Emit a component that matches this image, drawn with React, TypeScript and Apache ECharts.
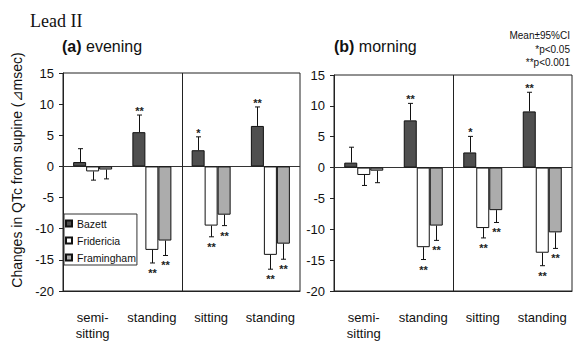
import React, { useEffect, useRef } from 'react';
import * as echarts from 'echarts';

const categories = ['semi-\nsitting', 'standing', 'sitting', 'standing'];
const methods = ['Bazett', 'Fridericia', 'Framingham'];
const yTicks = { min: -20, max: 15, interval: 5 };

// (a) evening: means, 95% CI ends, significance marks
const eveBazett = [0.7, 5.5, 2.6, 6.5];
const eveBazettCI = [2.85, 8.25, 4.75, 9.55];
const eveBazettSig = ['', '**', '*', '**'];
const eveFridericia = [-0.8, -13.4, -9.5, -14.2];
const eveFridericiaCI = [-2.2, -15.5, -11.3, -16.5];
const eveFridericiaSig = ['', '**', '**', '**'];
const eveFramingham = [-0.5, -11.9, -7.75, -12.4];
const eveFraminghamCI = [-2.0, -14.3, -9.5, -14.9];
const eveFraminghamSig = ['', '**', '**', '**'];

// (b) morning
const mornBazett = [0.8, 7.65, 2.45, 9.1];
const mornBazettCI = [3.3, 10.4, 5.05, 12.2];
const mornBazettSig = ['', '**', '*', '**'];
const mornFridericia = [-1.2, -12.9, -9.8, -13.8];
const mornFridericiaCI = [-2.9, -14.9, -11.4, -15.9];
const mornFridericiaSig = ['', '**', '**', '**'];
const mornFramingham = [-0.5, -9.4, -6.9, -10.5];
const mornFraminghamCI = [-2.45, -11.8, -8.9, -13.1];
const mornFraminghamSig = ['', '**', '**', '**'];

const FONT = 'Liberation Sans, Arial, sans-serif';
const colors = ['#4f4f4f', '#ffffff', '#acacac'];
const BAR_W = 13;

function makeRender(offset: number, sig: string[]) {
  return (params: any, api: any) => {
    const i = api.value(0);
    const v = api.value(1);
    const e = api.value(2);
    const p0 = api.coord([i, v]);
    const p1 = api.coord([i, e]);
    const x = Math.round(p0[0] + offset) + 0.5;
    const up = e > v;
    const ls = { stroke: '#111', lineWidth: 1 };
    const children: any[] = [
      { type: 'line', shape: { x1: x, y1: p0[1], x2: x, y2: p1[1] }, style: ls },
      { type: 'line', shape: { x1: x - 2.5, y1: p1[1], x2: x + 2.5, y2: p1[1] }, style: ls },
    ];
    const s = sig[params.dataIndex];
    if (s) {
      children.push({
        type: 'text',
        x,
        y: up ? p1[1] - 4 : p1[1] + 10,
        style: {
          text: s,
          fontSize: 11,
          fontFamily: FONT,
          fontWeight: 'bold',
          fill: '#222',
          align: 'center',
          verticalAlign: 'middle',
        },
      });
    }
    return { type: 'group', children };
  };
}

// vertical divider between the two halves of each panel
function dividerRender(params: any, api: any) {
  const a = api.coord([1, yTicks.max]);
  const b = api.coord([2, yTicks.min]);
  const x = Math.round((a[0] + b[0]) / 2) + 0.5;
  return {
    type: 'line',
    shape: { x1: x, y1: a[1], x2: x, y2: b[1] },
    style: { stroke: '#222', lineWidth: 1 },
  };
}

function panelSeries(idx: number, vals: number[][], cis: number[][], sigs: string[][]) {
  const out: any[] = [];
  out.push({
    type: 'custom',
    xAxisIndex: idx,
    yAxisIndex: idx,
    data: [[1, 0]],
    renderItem: dividerRender,
    silent: true,
    z: 1,
  });
  for (let m = 0; m < 3; m++) {
    const bar: any = {
      name: methods[m],
      type: 'bar',
      xAxisIndex: idx,
      yAxisIndex: idx,
      data: vals[m],
      barWidth: BAR_W,
      barGap: '0%',
      itemStyle: { color: colors[m], borderColor: '#111', borderWidth: 1 },
      z: 2,
    };
    if (m === 0) {
      bar.markLine = {
        silent: true,
        symbol: 'none',
        label: { show: false },
        lineStyle: { color: '#333', width: 1, type: 'solid' },
        data: [{ yAxis: 0 }],
        z: 1,
      };
    }
    out.push(bar);
    out.push({
      type: 'custom',
      xAxisIndex: idx,
      yAxisIndex: idx,
      data: vals[m].map((v, i) => [i, v, cis[m][i]]),
      encode: { x: 0, y: [1, 2] },
      renderItem: makeRender((m - 1) * BAR_W, sigs[m]),
      z: 3,
    });
  }
  return out;
}

export default function App() {
  const ref = useRef<HTMLDivElement>(null);
  useEffect(() => {
    if (!ref.current) return;
    const chart = echarts.init(ref.current, undefined, { renderer: 'svg' });
    const xAxisBase = (gridIndex: number) => ({
      type: 'category',
      gridIndex,
      data: categories,
      axisLine: { show: true, onZero: false, lineStyle: { color: '#222' } },
      axisTick: { show: false },
      axisLabel: { interval: 0, color: '#111', fontSize: 13, fontFamily: FONT, margin: 18, lineHeight: 16 },
      splitLine: { show: false },
    });
    const yAxisBase = (gridIndex: number) => ({
      type: 'value',
      gridIndex,
      min: yTicks.min,
      max: yTicks.max,
      interval: yTicks.interval,
      axisLine: { show: true, lineStyle: { color: '#222' } },
      axisTick: { show: true, length: 4, lineStyle: { color: '#222' } },
      axisLabel: { color: '#111', fontSize: 13, fontFamily: FONT, margin: 9 },
      splitLine: { show: false },
    });
    chart.setOption({
      animation: false,
      backgroundColor: '#ffffff',
      grid: [
        { left: 63, right: 273, top: 73, bottom: 43, show: true, borderColor: '#222', borderWidth: 1, backgroundColor: 'transparent' },
        { left: 334, right: 1, top: 75, bottom: 42, show: true, borderColor: '#222', borderWidth: 1, backgroundColor: 'transparent' },
      ],
      xAxis: [xAxisBase(0), xAxisBase(1)],
      yAxis: [yAxisBase(0), yAxisBase(1)],
      legend: {
        data: methods,
        orient: 'vertical',
        left: 64,
        top: 214,
        selectedMode: false,
        backgroundColor: '#ffffff',
        borderColor: '#333',
        borderWidth: 1,
        borderRadius: 0,
        padding: [3, 1, 1, 1],
        itemWidth: 6,
        itemHeight: 6,
        itemGap: 4,
        icon: 'rect',
        textStyle: { fontSize: 10.5, fontFamily: FONT, color: '#111', lineHeight: 13 },
      },
      graphic: [
        {
          type: 'text',
          left: 30,
          top: 12,
          style: { text: 'Lead II', fontSize: 18, fontFamily: 'Liberation Serif, Times New Roman, serif', fill: '#111' },
        },
        {
          type: 'text',
          left: 62,
          top: 38,
          style: {
            text: '{b|(a)} evening',
            fontSize: 16,
            fontFamily: FONT,
            fill: '#111',
            rich: { b: { fontWeight: 'bold', fontSize: 16, fontFamily: FONT, fill: '#111' } },
          },
        },
        {
          type: 'text',
          left: 334,
          top: 38,
          style: {
            text: '{b|(b)} morning',
            fontSize: 16,
            fontFamily: FONT,
            fill: '#111',
            rich: { b: { fontWeight: 'bold', fontSize: 16, fontFamily: FONT, fill: '#111' } },
          },
        },
        {
          type: 'text',
          x: 570,
          y: 35,
          style: { text: 'Mean±95%CI', fontSize: 10, fontFamily: FONT, fill: '#111', align: 'right', verticalAlign: 'middle' },
        },
        {
          type: 'text',
          x: 570,
          y: 49,
          style: { text: '*p<0.05', fontSize: 10, fontFamily: FONT, fill: '#111', align: 'right', verticalAlign: 'middle' },
        },
        {
          type: 'text',
          x: 570,
          y: 62,
          style: { text: '**p<0.001', fontSize: 10, fontFamily: FONT, fill: '#111', align: 'right', verticalAlign: 'middle' },
        },
        {
          type: 'text',
          x: 17,
          y: 170,
          rotation: Math.PI / 2,
          style: {
            text: 'Changes in QTc from supine (⊿msec)',
            fontSize: 14,
            fontFamily: FONT,
            fill: '#111',
            align: 'center',
            verticalAlign: 'middle',
          },
        },
      ],
      series: [
        ...panelSeries(
          0,
          [eveBazett, eveFridericia, eveFramingham],
          [eveBazettCI, eveFridericiaCI, eveFraminghamCI],
          [eveBazettSig, eveFridericiaSig, eveFraminghamSig]
        ),
        ...panelSeries(
          1,
          [mornBazett, mornFridericia, mornFramingham],
          [mornBazettCI, mornFridericiaCI, mornFraminghamCI],
          [mornBazettSig, mornFridericiaSig, mornFraminghamSig]
        ),
      ],
    });
    return () => chart.dispose();
  }, []);
  return (
    <div
      ref={ref}
      style={{ position: 'fixed', left: 0, top: 0, width: 573, height: 341, background: '#fff' }}
    />
  );
}
